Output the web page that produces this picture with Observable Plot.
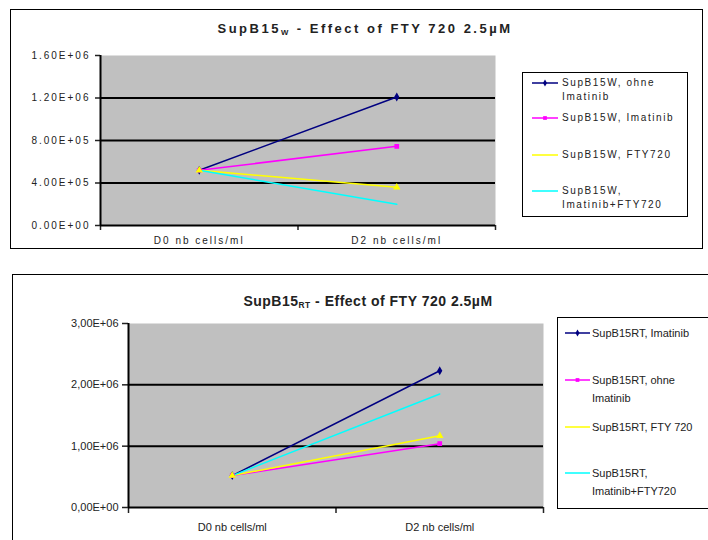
<!DOCTYPE html>
<html><head><meta charset="utf-8">
<script src="https://cdn.jsdelivr.net/npm/d3@7"></script>
<script src="https://cdn.jsdelivr.net/npm/@observablehq/plot@0.6"></script>
<style>
html,body{margin:0;padding:0;background:#fff;}
#page{position:relative;width:708px;height:540px;overflow:hidden;font-family:"Liberation Sans",Arial,sans-serif;}
.box{position:absolute;border:1.5px solid #000;box-sizing:border-box;}
.title{position:absolute;font-weight:bold;color:#222;white-space:nowrap;transform:translate(-50%,-50%);}
.title sub{font-size:60%;vertical-align:-2px;}
#top .title{font-size:13px;letter-spacing:2.5px;}
#bot .title{font-size:14px;letter-spacing:0.5px;}
.chart{position:absolute;left:0;}
#top svg text{letter-spacing:2px;}
.leg{position:absolute;border:1.5px solid #000;box-sizing:border-box;background:#fff;}
.entry{position:absolute;white-space:pre;color:#222;}
</style></head>
<body><div id="page">
<div id="top"></div>
<div id="bot"></div>
</div>
<script>
// ---- data ----
const categories = ["D0 nb cells/ml", "D2 nb cells/ml"];
const colors = ["#000080", "#ff00ff", "#ffff00", "#00ffff"];
const symbols = ["diamond", "square", "triangle", null];

const topSeries = ["SupB15W, ohne Imatinib", "SupB15W, Imatinib", "SupB15W, FTY720", "SupB15W, Imatinib+FTY720"];
const topLegend = ["SupB15W, ohne\nImatinib", "SupB15W, Imatinib", "SupB15W, FTY720", "SupB15W,\nImatinib+FTY720"];
const topD0 = [520000, 520000, 520000, 520000];
const topD2 = [1210000, 745000, 360000, 200000];
const topTicks = [0, 400000, 800000, 1200000, 1600000];

const botSeries = ["SupB15RT, Imatinib", "SupB15RT, ohne Imatinib", "SupB15RT, FTY 720", "SupB15RT, Imatinib+FTY720"];
const botLegend = ["SupB15RT, Imatinib", "SupB15RT, ohne\nImatinib", "SupB15RT, FTY 720", "SupB15RT,\nImatinib+FTY720"];
const botD0 = [520000, 520000, 520000, 520000];
const botD2 = [2230000, 1040000, 1170000, 1850000];
const botTicks = [0, 1000000, 2000000, 3000000];

function rowsOf(series, d0, d2) {
  const rows = [];
  series.forEach((s, i) => {
    [d0[i], d2[i]].forEach((v, j) => rows.push({series: s, cat: categories[j], xi: j + 0.5, value: v, sym: symbols[i]}));
  });
  return rows;
}
function excel(d, sep) {
  const e = d === 0 ? 0 : Math.floor(Math.log10(d));
  const m = d / Math.pow(10, e);
  return m.toFixed(2).replace(".", sep) + "E+" + String(e).padStart(2, "0");
}

function makeChart(cfg) {
  const rows = rowsOf(cfg.series, cfg.d0, cfg.d2);
  const maxT = cfg.ticks[cfg.ticks.length - 1];
  return Plot.plot({
    width: 708, height: cfg.height,
    marginLeft: cfg.ml, marginRight: cfg.mr, marginTop: cfg.mt, marginBottom: cfg.mb,
    x: {type: "linear", domain: [0, categories.length]},
    y: {domain: [0, maxT]},
    color: {domain: cfg.series, range: colors},
    symbol: {domain: cfg.series, range: symbols.map(s => s || "circle")},
    style: {fontFamily: "Liberation Sans, Arial, sans-serif", fontSize: cfg.fs, color: "#222", background: "transparent", overflow: "visible"},
    marks: [
      Plot.frame({fill: "#c0c0c0", stroke: null}),
      Plot.ruleY(cfg.ticks.slice(1, -1), {stroke: "#000", strokeWidth: 2}),
      Plot.axisY({ticks: cfg.ticks, tickFormat: d => excel(d, cfg.sep), tickSize: cfg.ts, tickPadding: cfg.tp, label: null, strokeWidth: 1.5}),
      Plot.axisX({ticks: d3.range(categories.length + 1), tickFormat: () => "", tickSize: cfg.ts, label: null, strokeWidth: 1.5}),
      Plot.axisX({ticks: categories.map((c, i) => i + 0.5), tickFormat: d => categories[Math.floor(d)], tickSize: 0, tickPadding: cfg.xp, label: null}),
      Plot.ruleX([0], {stroke: "#000", strokeWidth: 2}),
      Plot.ruleY([0], {stroke: "#000", strokeWidth: 2}),
      Plot.line(rows, {x: "xi", y: "value", z: "series", stroke: "series", strokeWidth: 1.5}),
      Plot.dot(rows.filter(r => r.sym), {x: "xi", y: "value", symbol: "series", fill: "series", stroke: "series", r: 1.8})
    ]
  });
}

function legend(parent, cfg) {
  const box = document.createElement("div");
  box.className = "leg";
  Object.assign(box.style, {left: cfg.lx + "px", top: cfg.ly + "px", width: cfg.lw + "px", height: cfg.lh + "px"});
  parent.appendChild(box);
  cfg.legend.forEach((txt, i) => {
    const y = cfg.ey[i];
    const svg = d3.create("svg").attr("width", cfg.sw + 8).attr("height", 10)
      .style("position", "absolute").style("left", (cfg.sx - 4) + "px").style("top", (y - 5) + "px");
    svg.append("line").attr("x1", 4).attr("x2", cfg.sw + 4).attr("y1", 5).attr("y2", 5).attr("stroke", colors[i]).attr("stroke-width", 1.5);
    if (symbols[i] && symbols[i] !== "triangle") {
      const sym = symbols[i] === "diamond" ? d3.symbolDiamond : d3.symbolSquare;
      svg.append("path").attr("d", d3.symbol(sym, 14)()).attr("transform", `translate(${cfg.sw / 2 + 4},5)`).attr("fill", colors[i]);
    }
    parent.appendChild(svg.node());
    const t = document.createElement("div");
    t.className = "entry";
    t.textContent = txt;
    Object.assign(t.style, {left: cfg.tx + "px", top: (y - cfg.lineH / 2) + "px", fontSize: cfg.lfs, lineHeight: cfg.lineH + "px", letterSpacing: cfg.lls});
    parent.appendChild(t);
  });
}

function build(id, cfg) {
  const root = document.getElementById(id);
  const b = document.createElement("div");
  b.className = "box";
  Object.assign(b.style, cfg.box);
  root.appendChild(b);
  const title = document.createElement("div");
  title.className = "title";
  title.innerHTML = cfg.title;
  Object.assign(title.style, {left: cfg.tcx + "px", top: cfg.tcy + "px"});
  root.appendChild(title);
  const c = document.createElement("div");
  c.className = "chart";
  c.style.top = cfg.top + "px";
  c.appendChild(makeChart(cfg));
  root.appendChild(c);
  legend(root, cfg);
}

build("top", {
  series: topSeries, legend: topLegend, d0: topD0, d2: topD2, ticks: topTicks, sep: ".",
  top: 0, height: 260, ml: 100, mr: 213, mt: 55, mb: 35, fs: "10px", ts: 5, tp: 5, xp: 11,
  box: {left: "10px", top: "9px", width: "693px", height: "240px"},
  title: "SupB15<sub>W</sub> - Effect of FTY 720 2.5µM", tcx: 365, tcy: 29,
  lx: 522, ly: 72, lw: 166, lh: 145, sx: 532, sw: 26, tx: 562, ey: [83, 118, 155, 191], lineH: 14, lfs: "10px", lls: "1.6px"
});
build("bot", {
  series: botSeries, legend: botLegend, d0: botD0, d2: botD2, ticks: botTicks, sep: ",",
  top: 270, height: 270, ml: 128, mr: 165, mt: 53, mb: 33, fs: "11px", ts: 6, tp: 4, xp: 16,
  box: {left: "12px", top: "274px", width: "720px", height: "300px"},
  title: "SupB15<sub>RT</sub> - Effect of FTY 720 2.5µM", tcx: 368, tcy: 301,
  lx: 557, ly: 317, lw: 200, lh: 192, sx: 565, sw: 25, tx: 592, ey: [333, 380, 427, 473], lineH: 18, lfs: "11px", lls: "0px"
});
</script>
</body></html>
